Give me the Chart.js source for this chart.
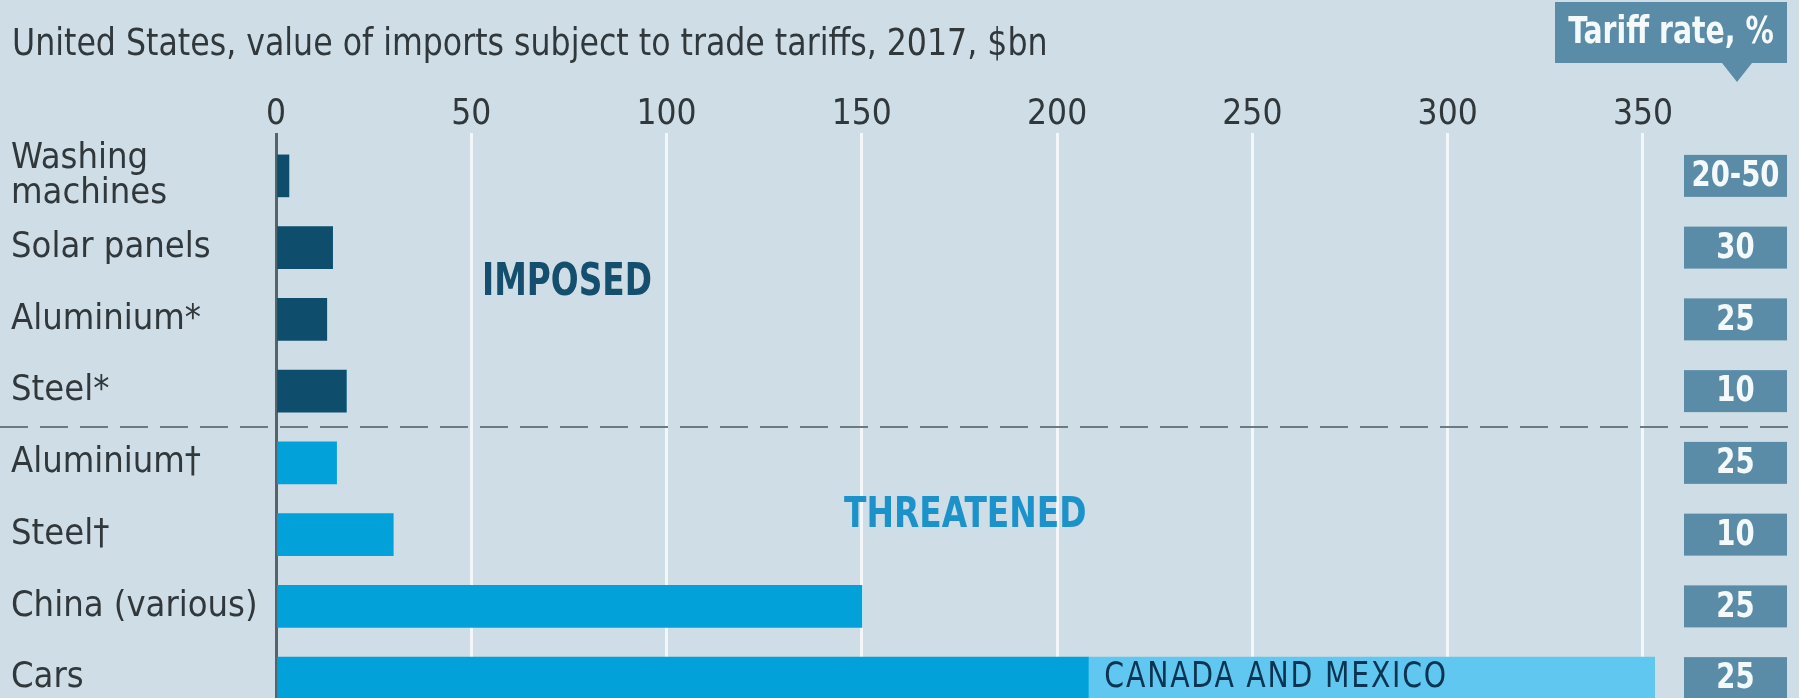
<!DOCTYPE html>
<html>
<head>
<meta charset="utf-8">
<script src="https://cdn.jsdelivr.net/npm/chart.js@4.4.1/dist/chart.umd.min.js"></script>
<style>
  html, body { margin: 0; padding: 0; background: #cfdee6; overflow: hidden; }
  canvas { display: block; }
</style>
</head>
<body>
<canvas id="chart" width="1799" height="716"></canvas>
<script>
// data ($bn, 2017)
const categories = [["Washing", "machines"], "Solar panels", "Aluminium*", "Steel*", "Aluminium†", "Steel†", "China (various)", "Cars"];
const groupOf = ["imposed", "imposed", "imposed", "imposed", "threatened", "threatened", "threatened", "threatened"];
const importValues = [3.3, 14.5, 13, 18, 15.5, 30, 150, 208];
const canadaMexicoValues = [0, 0, 0, 0, 0, 0, 0, 145];
const tariffRates = ["20-50", "30", "25", "10", "25", "10", "25", "25"];
const xTicks = [0, 50, 100, 150, 200, 250, 300, 350];

const FONT = "'Liberation Sans Narrow', 'DejaVu Sans Condensed', 'DejaVu Sans', sans-serif";
const TEXT = "#31383c";
const DARK = "#0f4d6d";
const BLUE = "#03a1da";
const LIGHT = "#60c8f0";
const RATE = "#5b8ca7";
const GRID = "#f3f7f9";
const AXIS = "#55636b";
const BAR_H = 42;

// text squeezed sideways, to get closer to the narrow original type
function squeezed(ctx, text, x, y, font, sx, align) {
  ctx.save();
  ctx.font = font;
  ctx.textAlign = align || "left";
  ctx.translate(x, y);
  ctx.scale(sx, 1);
  ctx.fillText(text, 0, 0);
  ctx.restore();
}

// extra text, the dashed divider and the tariff boxes
const overlay = {
  id: "overlay",
  afterDatasetsDraw(chart) {
    const { ctx, chartArea, scales: { x, y } } = chart;
    ctx.save();

    // subtitle
    ctx.fillStyle = TEXT;
    ctx.textBaseline = "alphabetic";
    squeezed(ctx, "United States, value of imports subject to trade tariffs, 2017, $bn", 12, 55, "37px " + FONT, 0.95);

    // divider between imposed and threatened
    const yDiv = (y.getPixelForValue(3) + y.getPixelForValue(4)) / 2;
    ctx.strokeStyle = "#6b7a83";
    ctx.lineWidth = 2;
    ctx.setLineDash([28, 12]);
    ctx.beginPath();
    ctx.moveTo(0, yDiv);
    ctx.lineTo(chart.width, yDiv);
    ctx.stroke();
    ctx.setLineDash([]);

    // group labels
    ctx.textBaseline = "middle";
    ctx.fillStyle = "#144f6e";
    squeezed(ctx, "IMPOSED", x.getPixelForValue(74.5), y.getPixelForValue(1.5), "bold 45px " + FONT, 0.81, "center");
    ctx.fillStyle = "#1b92c9";
    squeezed(ctx, "THREATENED", x.getPixelForValue(176.5), y.getPixelForValue(4.74), "bold 42px " + FONT, 0.87, "center");

    // canada and mexico label inside the cars bar
    ctx.fillStyle = "#0c3452";
    ctx.letterSpacing = "2px";
    squeezed(ctx, "CANADA AND MEXICO", x.getPixelForValue(importValues[7]) + 16, y.getPixelForValue(7), "35px " + FONT, 0.9);
    ctx.letterSpacing = "0px";

    // tariff rate boxes
    const bx = chartArea.right + 2;
    const bw = 103;
    tariffRates.forEach((r, i) => {
      const cy = y.getPixelForValue(i);
      ctx.fillStyle = RATE;
      ctx.fillRect(bx, cy - BAR_H / 2, bw, BAR_H);
      ctx.fillStyle = "#f4f9fc";
      squeezed(ctx, r, bx + bw / 2, cy + 1, "bold 36px " + FONT, 0.85, "center");
    });

    // header box with pointer
    ctx.fillStyle = RATE;
    ctx.fillRect(1555, 2, 232, 61);
    ctx.beginPath();
    ctx.moveTo(1722, 63);
    ctx.lineTo(1752, 63);
    ctx.lineTo(1737, 82);
    ctx.closePath();
    ctx.fill();
    ctx.fillStyle = "#f4f9fc";
    squeezed(ctx, "Tariff rate, %", 1671, 33, "bold 37px " + FONT, 0.85, "center");

    ctx.restore();
  }
};

new Chart(document.getElementById("chart"), {
  type: "bar",
  data: {
    labels: categories,
    datasets: [
      {
        label: "Imports",
        data: importValues,
        backgroundColor: groupOf.map(g => g === "imposed" ? DARK : BLUE),
        barThickness: BAR_H,
        stack: "s"
      },
      {
        label: "Canada and Mexico",
        data: canadaMexicoValues,
        backgroundColor: LIGHT,
        barThickness: BAR_H,
        stack: "s"
      }
    ]
  },
  options: {
    indexAxis: "y",
    responsive: false,
    animation: false,
    layout: { padding: { left: 11, right: 117, top: 0, bottom: 2 } },
    plugins: { legend: { display: false }, tooltip: { enabled: false } },
    scales: {
      x: {
        position: "top",
        stacked: true,
        min: 0,
        max: 360,
        afterBuildTicks: s => { s.ticks = xTicks.map(v => ({ value: v })); },
        afterFit: s => { s.height = 140; s.paddingLeft = 0; s.paddingRight = 0; },
        grid: {
          color: c => (c.tick && c.tick.value === 0) ? AXIS : GRID,
          lineWidth: 3,
          tickLength: 7
        },
        border: { display: false },
        ticks: { font: { family: FONT, size: 35, lineHeight: 1 }, color: TEXT, padding: 1 }
      },
      y: {
        stacked: true,
        afterFit: s => { s.width = 265; s.paddingTop = 0; s.paddingBottom = 0; },
        grid: { display: false },
        border: { display: false },
        ticks: {
          autoSkip: false,
          crossAlign: "far",
          font: { family: FONT, size: 36, lineHeight: 0.97 },
          color: TEXT,
          padding: 0
        }
      }
    }
  },
  plugins: [overlay]
});
</script>
</body>
</html>
